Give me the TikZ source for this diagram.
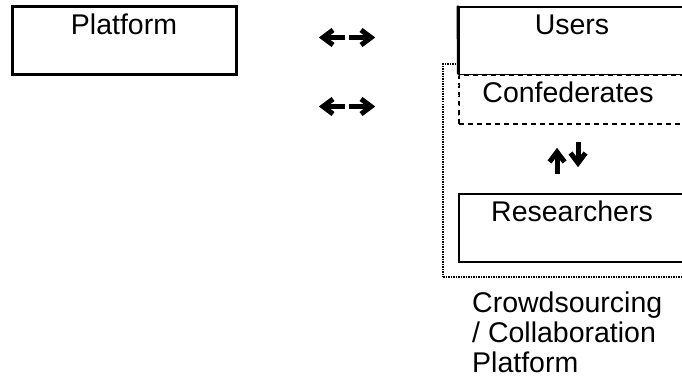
\documentclass[tikz,border=0pt]{standalone}
\usepackage{fontspec}
\setmainfont{Liberation Sans}
\begin{document}
\begin{tikzpicture}[x=1pt,y=-1pt,
  lbl/.style={inner sep=0pt,anchor=base,font=\fontsize{28.5}{30}\selectfont},
  solidbox/.style={draw,line width=2.5pt,fill=white,inner sep=0pt},
  groupbox/.style={draw,line width=2pt,dash pattern=on 1.5pt off 1pt,inner sep=0pt},
  dashbox/.style={draw,line width=1.5pt,dash pattern=on 5pt off 4pt,fill=white,inner sep=0pt},
  arrowshaft/.style={line width=5pt},
  arrowhead/.style={line width=5pt,miter limit=10}]
\useasboundingbox (0,0) rectangle (682,379);
\clip (0,0) rectangle (682,379);

% platform box
\node[solidbox,line width=3pt,minimum width=224pt,minimum height=68pt] (platform) at (124,41) {};
\node[lbl] (platformlbl) at (124,35) {Platform};

% dotted group round the crowd side
\node[groupbox,minimum width=250pt,minimum height=213pt] (group) at (568,170.5) {};

% users box, its lower edge covered by the confederates box
\node[solidbox,minimum width=226pt,minimum height=68pt] (users) at (572,41) {};
\node[dashbox,minimum width=228pt,minimum height=49pt] (conf) at (573,99.5) {};
\draw[line width=1.2pt,gray!70,dash pattern=on 1.2pt off 8.8pt] (conf.north west) ++(0,1) -- (conf.south west);
\draw[line width=2.5pt] (users.north west) -- (conf.north west);
\node[lbl] (userslbl) at (572,35) {Users};
\node[lbl] (conflbl) at (568,103) {Confederates};

% researchers box
\node[solidbox,minimum width=226pt,minimum height=68pt] (res) at (572,228) {};
\node[lbl] (reslbl) at (572,222) {Researchers};

% caption
\node[lbl,anchor=base west,align=left] (caption) at (472,372) {Crowdsourcing\\/ Collaboration\\Platform};

% left/right arrow pairs
\foreach \yy/\nm in {37.5/a,106.5/b}{
  \coordinate (l\nm) at (323,\yy);
  \coordinate (r\nm) at (371,\yy);
  \draw[arrowshaft] (l\nm) ++(2,0) -- ++(20,0);
  \draw[arrowhead] (l\nm) ++(10,-7.5) -- (l\nm) -- ++(10,7.5);
  \draw[arrowshaft] (r\nm) ++(-2,0) -- ++(-20,0);
  \draw[arrowhead] (r\nm) ++(-10,-7.5) -- (r\nm) -- ++(-10,7.5);
}

% up/down arrow pair
\coordinate (up) at (557,152);
\coordinate (dn) at (578,163);
\draw[arrowshaft] (up) ++(0,2) -- ++(0,20);
\draw[arrowhead] (up) ++(-7.5,10) -- (up) -- ++(7.5,10);
\draw[arrowshaft] (dn) ++(0,-2) -- ++(0,-19);
\draw[arrowhead] (dn) ++(-7.5,-10) -- (dn) -- ++(7.5,-10);
\end{tikzpicture}
\end{document}
